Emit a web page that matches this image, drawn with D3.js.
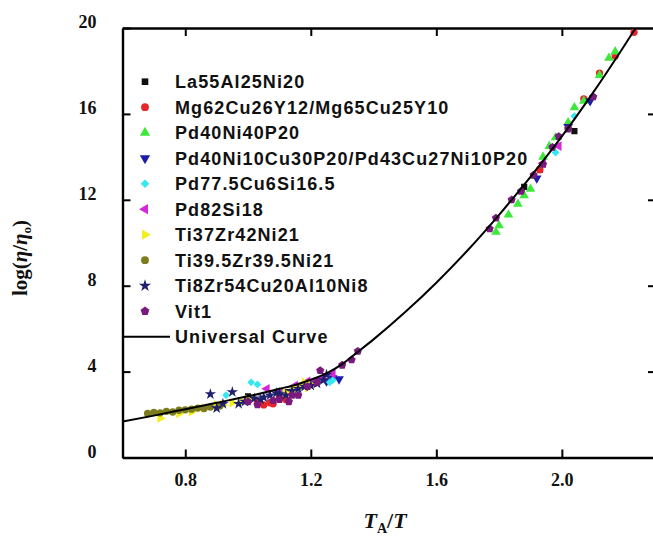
<!DOCTYPE html>
<html>
<head>
<meta charset="utf-8">
<script src="https://cdn.jsdelivr.net/npm/d3@7"></script>
<style>
  html, body { margin: 0; padding: 0; background: #fff; }
  svg { display: block; }
</style>
</head>
<body>
<svg id="chart" width="653" height="543"></svg>
<script>
// Reduced temperature T_A/T against log(eta/eta0), one array per alloy.
const la55Al25Ni20 = [[1.00,2.85],[1.12,3.05],[1.21,3.45],[1.88,12.6],[2.04,15.2],[1.93,13.4]];
const mg62Cu26Y12 = [[1.03,2.6],[1.05,2.45],[1.07,2.55],[1.08,2.5],[1.10,2.8],[1.12,2.7],[1.93,13.4],[2.07,16.7],[2.12,17.9],[2.17,18.7],[2.23,19.8]];
const pd40Ni40P20 = [[1.79,10.5],[1.80,10.8],[1.83,11.3],[1.86,11.8],[1.88,12.2],[1.90,12.5],[1.91,13.1],[1.94,14.0],[1.96,14.5],[1.98,14.9],[2.02,15.6],[2.04,16.3],[2.07,16.6],[2.12,17.8],[2.15,18.6],[2.17,18.9]];
const pd40Ni10Cu30P20 = [[1.27,3.7],[1.29,3.65],[1.25,3.55],[1.92,13.0],[2.02,15.4],[2.09,16.6]];
const pd77Cu6Si16 = [[0.93,2.9],[1.01,3.5],[1.03,3.4],[1.10,3.1],[1.26,3.5],[1.27,3.6],[1.98,14.2],[2.04,15.9]];
const pd82Si18 = [[1.06,3.2],[1.10,3.05],[1.15,3.35],[1.19,3.55],[1.20,3.5],[1.22,3.6],[1.24,3.7],[1.27,3.9],[1.94,13.7],[1.99,14.5]];
const ti37Zr42Ni21 = [[0.72,1.83],[0.78,2.05],[0.82,2.13],[0.86,2.3],[0.90,2.45],[0.92,2.45],[0.95,2.55],[0.98,2.6],[1.00,2.7],[1.12,3.0],[1.14,3.1],[1.15,3.2],[1.17,3.3],[1.18,3.5],[1.19,3.25],[1.20,3.4]];
const ti39Zr39Ni21 = [[0.68,2.05],[0.70,2.1],[0.72,2.08],[0.74,2.15],[0.76,2.12],[0.78,2.2],[0.80,2.22],[0.82,2.25],[0.84,2.3],[0.86,2.28],[0.88,2.35],[0.91,2.4]];
const ti8Zr54Cu20Al10Ni8 = [[0.88,2.95],[0.90,2.3],[0.92,2.5],[0.95,3.05],[0.97,2.5],[0.99,2.6],[1.02,2.75],[1.04,2.7],[1.05,2.8],[1.07,2.9],[1.09,3.0],[1.10,2.95],[1.12,2.9],[1.14,3.1],[1.16,3.2],[1.18,3.3],[1.20,3.35],[1.22,3.45],[1.24,3.6],[1.25,3.85]];
const vit1 = [[1.00,2.6],[1.03,2.45],[1.08,2.65],[1.10,2.7],[1.13,2.6],[1.14,2.9],[1.16,2.9],[1.19,3.3],[1.22,3.5],[1.23,4.05],[1.30,4.3],[1.33,4.55],[1.35,4.95],[1.77,10.65],[1.79,11.15],[1.84,12.0],[1.87,12.4],[1.91,13.15],[1.94,13.65],[1.97,14.45],[1.99,14.95],[2.02,15.3],[2.10,16.8]];

// Universal curve, read along its length.
const curveX = [0.6,0.7,0.8,0.9,1.0,1.1,1.15,1.2,1.25,1.3,1.35,1.4,1.5,1.6,1.7,1.8,1.9,2.0,2.1,2.2,2.25];
const curveY = [1.67,1.95,2.25,2.55,2.85,3.2,3.38,3.62,3.92,4.35,4.92,5.5,6.76,8.14,9.65,11.3,13.07,14.95,17.0,19.2,20.34];

const legendLabels = ["La55Al25Ni20","Mg62Cu26Y12/Mg65Cu25Y10","Pd40Ni40P20","Pd40Ni10Cu30P20/Pd43Cu27Ni10P20",
  "Pd77.5Cu6Si16.5","Pd82Si18","Ti37Zr42Ni21","Ti39.5Zr39.5Ni21","Ti8Zr54Cu20Al10Ni8","Vit1"];
const curveLabel = "Universal Curve";
const xTicks = [0.8,1.2,1.6,2.0];
const yTicks = [0,4,8,12,16,20];

const seriesData = [la55Al25Ni20, mg62Cu26Y12, pd40Ni40P20, pd40Ni10Cu30P20, pd77Cu6Si16, pd82Si18, ti37Zr42Ni21, ti39Zr39Ni21, ti8Zr54Cu20Al10Ni8, vit1];

// Marker appearance per alloy
const pentagon = {
  draw(ctx, size) {
    const r = Math.sqrt(size / 2.378);
    for (let i = 0; i < 5; i++) {
      const a = -Math.PI / 2 + i * 2 * Math.PI / 5;
      const px = r * Math.cos(a), py = r * Math.sin(a);
      if (i === 0) ctx.moveTo(px, py); else ctx.lineTo(px, py);
    }
    ctx.closePath();
  }
};
const colors = ["#111111","#e8262a","#3ee83a","#1c1ca8","#33e8ef","#d327d8","#f5ee1f","#7c7c1e","#20206e","#7a1a7c"];
const shapes = [d3.symbolSquare, d3.symbolCircle, d3.symbolTriangle, d3.symbolTriangle, d3.symbolSquare,
  d3.symbolTriangle, d3.symbolTriangle, d3.symbolCircle, d3.symbolStar, pentagon];
const rotations = [0, 0, 0, 180, 45, -90, 90, 0, 0, 0];
const sizes = [38, 42, 40, 40, 30, 40, 40, 42, 40, 44];

const svg = d3.select("#chart");
const x = d3.scaleLinear().domain([0.6, 2.3]).range([122.5, 656]);
const y = d3.scaleLinear().domain([0, 20]).range([457.5, 28]);

svg.append("defs").append("clipPath").attr("id", "plotClip")
  .append("rect").attr("x", x(0.6)).attr("y", y(20)).attr("width", x(2.3) - x(0.6)).attr("height", y(0) - y(20));

const tickFont = "'Liberation Serif', 'Times New Roman', serif";

function styleAxis(g) {
  g.selectAll("path.domain").attr("stroke", "#000").attr("stroke-width", 2.4);
  g.selectAll(".tick line").attr("stroke", "#000").attr("stroke-width", 2);
  g.selectAll(".tick text").attr("font-family", tickFont).attr("font-weight", "bold")
    .attr("font-size", 18).attr("fill", "#111");
}

// Frame: bottom and left carry labels, top and right only inward ticks.
svg.append("g").attr("transform", `translate(0,${y(0)})`)
  .call(d3.axisBottom(x).tickValues(xTicks).tickFormat(d3.format(".1f")).tickSizeInner(-8).tickSizeOuter(0).tickPadding(16))
  .call(styleAxis);
svg.append("g").attr("transform", `translate(0,${y(20)})`)
  .call(d3.axisTop(x).tickValues(xTicks).tickFormat("").tickSizeInner(-8).tickSizeOuter(0))
  .call(styleAxis);
svg.append("g").attr("transform", `translate(${x(0.6)},0)`)
  .call(d3.axisLeft(y).tickValues(yTicks).tickFormat(d3.format("d")).tickSizeInner(-8).tickSizeOuter(0).tickPadding(26))
  .call(styleAxis)
  .call(g => g.selectAll(".tick text").attr("transform", "translate(0,-6)"));
svg.append("g").attr("transform", `translate(${x(2.3)},0)`)
  .call(d3.axisRight(y).tickValues([4,8,12,16]).tickFormat("").tickSizeInner(-8).tickSizeOuter(0))
  .call(styleAxis);

// Data markers
const plot = svg.append("g").attr("clip-path", "url(#plotClip)");
seriesData.forEach((pts, i) => {
  const sym = d3.symbol().type(shapes[i]).size(sizes[i]);
  plot.append("g").selectAll("path").data(pts).join("path")
    .attr("d", sym)
    .attr("transform", d => `translate(${x(d[0])},${y(d[1])}) rotate(${rotations[i]})`)
    .attr("fill", colors[i]);
});

// Universal curve
const curvePts = curveX.map((v, i) => [v, curveY[i]]);
plot.append("path").datum(curvePts)
  .attr("fill", "none").attr("stroke", "#000").attr("stroke-width", 2)
  .attr("d", d3.line().x(d => x(d[0])).y(d => y(d[1])).curve(d3.curveMonotoneX));

// Legend
const legendFont = "'Liberation Sans', Arial, Helvetica, sans-serif";
const legend = svg.append("g");
const rowY = i => 81.7 + i * 25.5;
legendLabels.forEach((label, i) => {
  legend.append("path")
    .attr("d", d3.symbol().type(shapes[i]).size(sizes[i] + 6))
    .attr("transform", `translate(145,${rowY(i)}) rotate(${rotations[i]})`)
    .attr("fill", colors[i]);
  legend.append("text").attr("x", 175).attr("y", rowY(i)).attr("dy", "0.36em")
    .attr("font-family", legendFont).attr("font-weight", "bold").attr("font-size", 18)
    .attr("letter-spacing", 1.1).attr("fill", "#111").text(label);
});
legend.append("line").attr("x1", x(0.6)).attr("x2", 170).attr("y1", rowY(10)).attr("y2", rowY(10))
  .attr("stroke", "#000").attr("stroke-width", 2);
legend.append("text").attr("x", 175).attr("y", rowY(10)).attr("dy", "0.36em")
  .attr("font-family", legendFont).attr("font-weight", "bold").attr("font-size", 18)
  .attr("letter-spacing", 1.1).attr("fill", "#111").text(curveLabel);

// Axis titles
const xt = svg.append("text").attr("x", 385).attr("y", 528).attr("text-anchor", "middle")
  .attr("font-family", tickFont).attr("font-weight", "bold").attr("font-size", 22).attr("fill", "#111");
xt.append("tspan").attr("font-style", "italic").text("T");
xt.append("tspan").attr("font-size", 14).attr("dy", 5).text("A");
xt.append("tspan").attr("dy", -5).text("/");
xt.append("tspan").attr("font-style", "italic").text("T");

const yt = svg.append("text").attr("transform", "translate(27,258) rotate(-90)").attr("text-anchor", "middle")
  .attr("font-family", tickFont).attr("font-weight", "bold").attr("font-size", 21).attr("fill", "#111");
yt.append("tspan").text("log(");
yt.append("tspan").attr("font-style", "italic").text("η");
yt.append("tspan").text("/");
yt.append("tspan").attr("font-style", "italic").text("η");
yt.append("tspan").attr("font-size", 13).attr("dy", 4).text("o");
yt.append("tspan").attr("dy", -4).text(")");
</script>
</body>
</html>
